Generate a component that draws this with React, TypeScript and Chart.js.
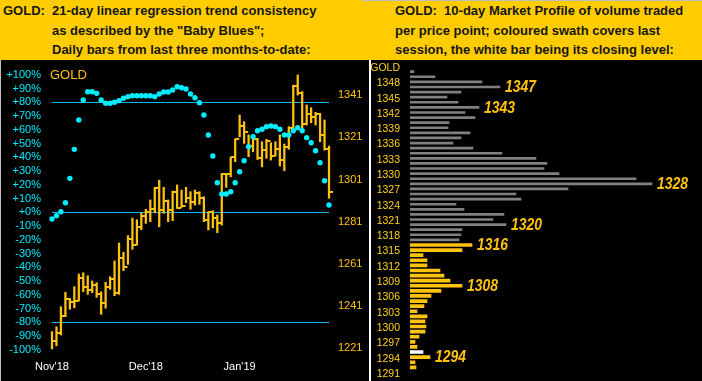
import React, { useEffect, useRef } from 'react';
import { Chart, registerables } from 'chart.js';

Chart.register(...registerables);

// ---------- Left panel: daily HLC bars + "Baby Blues" ----------
const highs = [
  1228.9, 1231.2, 1240.7, 1247.5, 1244.7, 1250.2, 1256.2, 1256.8, 1255.4, 1252.9,
  1252.1, 1247.8, 1252.3, 1254.9, 1262.4, 1270.9, 1266.5, 1274.4, 1282.7, 1281.9,
  1285.2, 1286.9, 1291.3, 1297.3, 1300.7, 1297.3, 1291.3, 1295.5, 1298.4, 1296.0,
  1297.3, 1295.2, 1296.0, 1295.2, 1292.8, 1285.7, 1286.2, 1284.2, 1303.9, 1303.9,
  1311.5, 1320.2, 1331.5, 1328.4, 1322.1, 1321.0, 1320.5, 1318.9, 1320.0, 1318.4,
  1318.9, 1322.1, 1317.8, 1326.0, 1345.7, 1350.5, 1342.6, 1336.3, 1335.0, 1332.8,
  1332.3, 1329.2, 1316.8,
];
const lows = [
  1220.7, 1222.2, 1227.3, 1236.0, 1239.5, 1240.2, 1243.4, 1247.8, 1246.6, 1247.4,
  1245.2, 1237.1, 1240.0, 1249.0, 1245.9, 1246.6, 1257.8, 1260.8, 1267.9, 1269.9,
  1277.2, 1280.2, 1281.0, 1285.2, 1278.6, 1285.0, 1281.0, 1281.5, 1287.3, 1287.8,
  1290.0, 1286.9, 1288.9, 1289.2, 1281.0, 1277.1, 1278.1, 1275.8, 1279.4, 1297.3,
  1302.3, 1309.4, 1321.2, 1318.1, 1311.8, 1314.1, 1310.5, 1307.0, 1311.0, 1310.2,
  1312.1, 1307.4, 1305.1, 1315.3, 1324.4, 1341.0, 1324.4, 1326.8, 1327.9, 1326.8,
  1318.9, 1314.9, 1292.1,
];
const closes = [
  1224.6, 1228.1, 1236.5, 1244.5, 1243.1, 1243.6, 1254.5, 1250.2, 1248.8, 1251.1,
  1246.9, 1242.6, 1250.2, 1254.0, 1247.4, 1263.9, 1259.7, 1272.9, 1270.1, 1278.6,
  1283.8, 1285.4, 1287.0, 1296.8, 1286.5, 1290.9, 1286.5, 1295.2, 1287.6, 1288.6,
  1292.4, 1290.2, 1294.4, 1292.4, 1281.8, 1285.4, 1282.6, 1280.5, 1303.6, 1303.4,
  1311.5, 1320.2, 1326.3, 1323.3, 1316.8, 1320.2, 1311.0, 1314.9, 1319.2, 1312.2,
  1315.3, 1310.2, 1316.5, 1325.5, 1345.4, 1342.1, 1327.1, 1331.9, 1330.4, 1331.9,
  1322.1, 1315.3, 1295.0,
];
const babyBlues = [
  -4.9, -2.5, 0.4, 7, 24.7, 45.8, 67.1, 81.7, 87.7, 87.7,
  86.5, 81.7, 79.3, 79.3, 80, 81.2, 82.9, 84.1, 84.8, 84.8,
  84.8, 84.8, 84.8, 84.1, 86, 87.5, 87.5, 88.9, 91.3, 90.6,
  89.7, 86, 83.3, 79.7, 70.8, 56.2, 40.9, 21.5, 13.3, 13.3,
  15, 21.5, 29.5, 37.5, 47.7, 55, 59.3, 60.4, 62.3, 62.8,
  62.3, 60.4, 56.2, 56.2, 59.3, 61.5, 59.3, 54.3, 50.6, 44.8,
  36.1, 23, 5.3,
];
const monthLabels = ["Nov'18", "Dec'18", "Jan'19"];
const monthStartIndex = [0, 21, 42];
const pctTicks = [100, 90, 80, 70, 60, 50, 40, 30, 20, 10, 0, -10, -20, -30, -40, -50, -60, -70, -80, -90, -100];
const pctLines = [80, 0, -80];
const priceTicks = [1221, 1241, 1261, 1281, 1301, 1321, 1341];

// ---------- Right panel: 10-day market profile ----------
const profileLevels = [
  1350, 1349, 1348, 1347, 1346, 1345, 1344, 1343, 1342, 1341,
  1340, 1339, 1338, 1337, 1336, 1335, 1334, 1333, 1332, 1331,
  1330, 1329, 1328, 1327, 1326, 1325, 1324, 1323, 1322, 1321,
  1320, 1319, 1318, 1317, 1316, 1315, 1314, 1313, 1312, 1311,
  1310, 1309, 1308, 1307, 1306, 1305, 1304, 1303, 1302, 1301,
  1300, 1299, 1298, 1297, 1296, 1295, 1294, 1293, 1292, 1291,
];
const profileVolume = [
  4, 25, 72, 90, 51, 37, 48, 69, 55, 65,
  39, 38, 60, 51, 43, 63, 92, 126, 137, 134,
  149, 226, 242, 158, 106, 111, 46, 54, 94, 83,
  96, 52, 51, 49, 62, 52, 13, 17, 17, 30,
  34, 40, 52, 31, 21, 17, 14, 7, 17, 15,
  16, 15, 9, 5, 7, 13, 20, 5, 6, 0,
];
const profileTickLabels = ['GOLD', '1348', '1345', '1342', '1339', '1336', '1333', '1330', '1327', '1324', '1321',
  '1318', '1315', '1312', '1309', '1306', '1303', '1300', '1297', '1294', '1291'];
const calloutLevels = [1347, 1343, 1328, 1320, 1316, 1308, 1294];
const sessionHigh = 1316;
const sessionLow = 1292;
const sessionClose = 1295;

const FONT = '"Liberation Sans", Arial, sans-serif';
const GOLD = '#FFC20E';
const CYAN = '#00EEFF';
const LINE = '#14B8F0';
const GREY = '#808080';
const CLEAR = 'rgba(0,0,0,0)';

function LeftChart() {
  const ref = useRef<HTMLCanvasElement>(null);
  useEffect(() => {
    const tick = document.createElement('canvas');
    tick.width = 10;
    tick.height = 2;
    const tctx = tick.getContext('2d')!;
    tctx.fillStyle = GOLD;
    tctx.fillRect(5, 0, 4, 2);

    const labels = highs.map((_, i) => String(i + 1));
    const chart = new Chart(ref.current!, {
      type: 'bar',
      data: {
        labels,
        datasets: [
          {
            type: 'line',
            label: 'Baby Blues',
            data: babyBlues,
            yAxisID: 'pct',
            showLine: false,
            pointStyle: 'circle',
            pointRadius: 2.7,
            pointBackgroundColor: CYAN,
            pointBorderWidth: 0,
            order: 0,
            clip: false,
          } as any,
          {
            type: 'line',
            label: 'Close',
            data: closes,
            yAxisID: 'price',
            showLine: false,
            pointStyle: tick,
            pointRadius: 3,
            order: 1,
            clip: false,
          } as any,
          {
            type: 'bar',
            label: 'Range',
            data: lows.map((l, i) => [l, highs[i]]),
            yAxisID: 'price',
            backgroundColor: GOLD,
            borderWidth: 0,
            barThickness: 1.6,
            order: 2,
            clip: false,
          } as any,
        ],
      },
      options: {
        responsive: false,
        animation: false,
        devicePixelRatio: 1,
        layout: { padding: { top: 14.8, left: 0, right: 0, bottom: 0 } },
        plugins: { legend: { display: false }, tooltip: { enabled: false }, title: { display: false } },
        scales: {
          x: {
            type: 'category',
            offset: false,
            grid: { display: false, offset: false, drawTicks: false },
            border: { display: false },
            ticks: {
              autoSkip: false,
              maxRotation: 0,
              minRotation: 0,
              padding: 11,
              color: '#FFFFFF',
              font: { family: FONT, size: 11 },
              callback: (_v: any, i: number) => {
                const k = monthStartIndex.indexOf(i);
                return k >= 0 ? monthLabels[k] : '';
              },
            },
            afterFit: (s: any) => { s.height = 31.2; },
          },
          pct: {
            type: 'linear',
            position: 'left',
            min: -100,
            max: 100,
            afterBuildTicks: (s: any) => { s.ticks = pctTicks.map((v) => ({ value: v })); },
            ticks: {
              autoSkip: false,
              color: CYAN,
              padding: 0,
              font: { family: FONT, size: 11 },
              callback: (v: any) => (v >= 0 ? '+' : '') + v + '%',
            },
            grid: {
              drawTicks: true,
              tickLength: 11,
              tickColor: CLEAR,
              lineWidth: 1,
              color: (ctx: any) => (ctx.tick && pctLines.includes(ctx.tick.value) ? LINE : CLEAR),
            },
            border: { display: false },
            afterFit: (s: any) => { s.width = 52; },
          },
          price: {
            type: 'linear',
            position: 'right',
            min: 1220.3,
            max: 1350.6,
            afterBuildTicks: (s: any) => { s.ticks = priceTicks.map((v) => ({ value: v })); },
            ticks: {
              autoSkip: false,
              color: GOLD,
              padding: 0,
              font: { family: FONT, size: 11 },
              callback: (v: any) => String(v),
            },
            grid: { display: false, drawTicks: true, tickLength: 9, tickColor: CLEAR },
            border: { display: false },
            afterFit: (s: any) => { s.width = 33; },
          },
        },
      } as any,
    });
    return () => chart.destroy();
  }, []);
  return (
    <canvas
      ref={ref}
      width={362}
      height={321}
      style={{ position: 'absolute', left: 0, top: 60, width: 362, height: 321 }}
    />
  );
}

function RightChart() {
  const ref = useRef<HTMLCanvasElement>(null);
  useEffect(() => {
    const inSession = (p: number) => p <= sessionHigh && p >= sessionLow;
    const greyData = [null, ...profileVolume.map((v, i) => (inSession(profileLevels[i]) ? null : v))];
    const sessData = [null, ...profileVolume.map((v, i) => (inSession(profileLevels[i]) ? v : null))];
    const calloutPlugin = {
      id: 'callouts',
      afterDatasetsDraw(chart: any) {
        const { ctx, scales } = chart;
        ctx.save();
        ctx.font = 'italic bold 17px "Liberation Sans", Arial, sans-serif';
        ctx.fillStyle = GOLD;
        ctx.textAlign = 'left';
        ctx.textBaseline = 'middle';
        calloutLevels.forEach((lvl) => {
          const i = profileLevels.indexOf(lvl);
          const x = scales.x.getPixelForValue(profileVolume[i]) + 5;
          const y = scales.y.getPixelForValue(i + 1);
          ctx.save();
          ctx.translate(x, y + 0.5);
          ctx.scale(0.82, 1);
          ctx.fillText(String(lvl), 0, 0);
          ctx.restore();
        });
        ctx.restore();
      },
    };
    const chart = new Chart(ref.current!, {
      type: 'bar',
      data: {
        labels: ['GOLD', ...profileLevels.map(String)],
        datasets: [
          {
            label: 'Earlier sessions',
            data: greyData,
            backgroundColor: GREY,
            barThickness: 2,
            grouped: false,
            borderWidth: 0,
          } as any,
          {
            label: 'Last session',
            data: sessData,
            backgroundColor: (c: any) =>
              profileLevels[c.dataIndex - 1] === sessionClose ? '#FFFFFF' : GOLD,
            barThickness: 3,
            grouped: false,
            borderWidth: 0,
          } as any,
        ],
      },
      options: {
        indexAxis: 'y',
        responsive: false,
        animation: false,
        devicePixelRatio: 1,
        layout: { padding: { top: 6.6, bottom: 8.6, left: 0, right: 0 } },
        plugins: { legend: { display: false }, tooltip: { enabled: false } },
        scales: {
          x: { type: 'linear', display: false, min: 0, max: 292 },
          y: {
            type: 'category',
            offset: false,
            grid: { display: false, drawTicks: true, tickLength: 10, tickColor: CLEAR },
            border: { display: false },
            ticks: {
              autoSkip: false,
              color: '#FFD21E',
              padding: 0,
              labelOffset: 1.5,
              font: { family: FONT, size: 10.5 },
              callback: function (this: any, _v: any, i: number) {
                const lab = this.getLabelForValue(i);
                return profileTickLabels.includes(lab) ? lab : '';
              },
            },
            afterFit: (s: any) => { s.width = 48; },
          },
        },
      } as any,
      plugins: [calloutPlugin],
    });
    return () => chart.destroy();
  }, []);
  return (
    <canvas
      ref={ref}
      width={340}
      height={321}
      style={{ position: 'absolute', left: 362, top: 60, width: 340, height: 321 }}
    />
  );
}

const headerStyle: React.CSSProperties = {
  position: 'absolute',
  fontFamily: FONT,
  fontWeight: 'bold',
  fontSize: 13,
  lineHeight: '19.5px',
  color: '#161616',
  whiteSpace: 'pre',
};

export default function App() {
  return (
    <div
      style={{
        position: 'absolute',
        left: 0,
        top: 0,
        width: 702,
        height: 381,
        background: '#FFCC00',
        overflow: 'hidden',
      }}
    >
      <div style={{ position: 'absolute', left: 362, top: 0, width: 340, height: 1, background: '#BDBDBD' }} />
      <div style={{ ...headerStyle, left: 3, top: 1 }}>GOLD:</div>
      <div style={{ ...headerStyle, left: 52, top: 1 }}>
        {'21-day linear regression trend consistency\nas described by the "Baby Blues";\nDaily bars from last three months-to-date:'}
      </div>
      <div style={{ ...headerStyle, left: 395, top: 1 }}>
        {'GOLD:  10-day Market Profile of volume traded\nper price point; coloured swath covers last\nsession, the white bar being its closing level:'}
      </div>
      <div style={{ position: 'absolute', left: 0, top: 60, width: 702, height: 321, background: '#000' }} />
      <div style={{ position: 'absolute', left: 0, top: 60, width: 1, height: 321, background: '#BDBDBD' }} />
      <div style={{ position: 'absolute', left: 369, top: 60, width: 2, height: 321, background: '#FFFFFF' }} />
      <LeftChart />
      <RightChart />
      <div
        style={{
          position: 'absolute',
          left: 50,
          top: 67,
          fontFamily: FONT,
          fontSize: 13,
          lineHeight: '16px',
          color: GOLD,
        }}
      >
        GOLD
      </div>
    </div>
  );
}
